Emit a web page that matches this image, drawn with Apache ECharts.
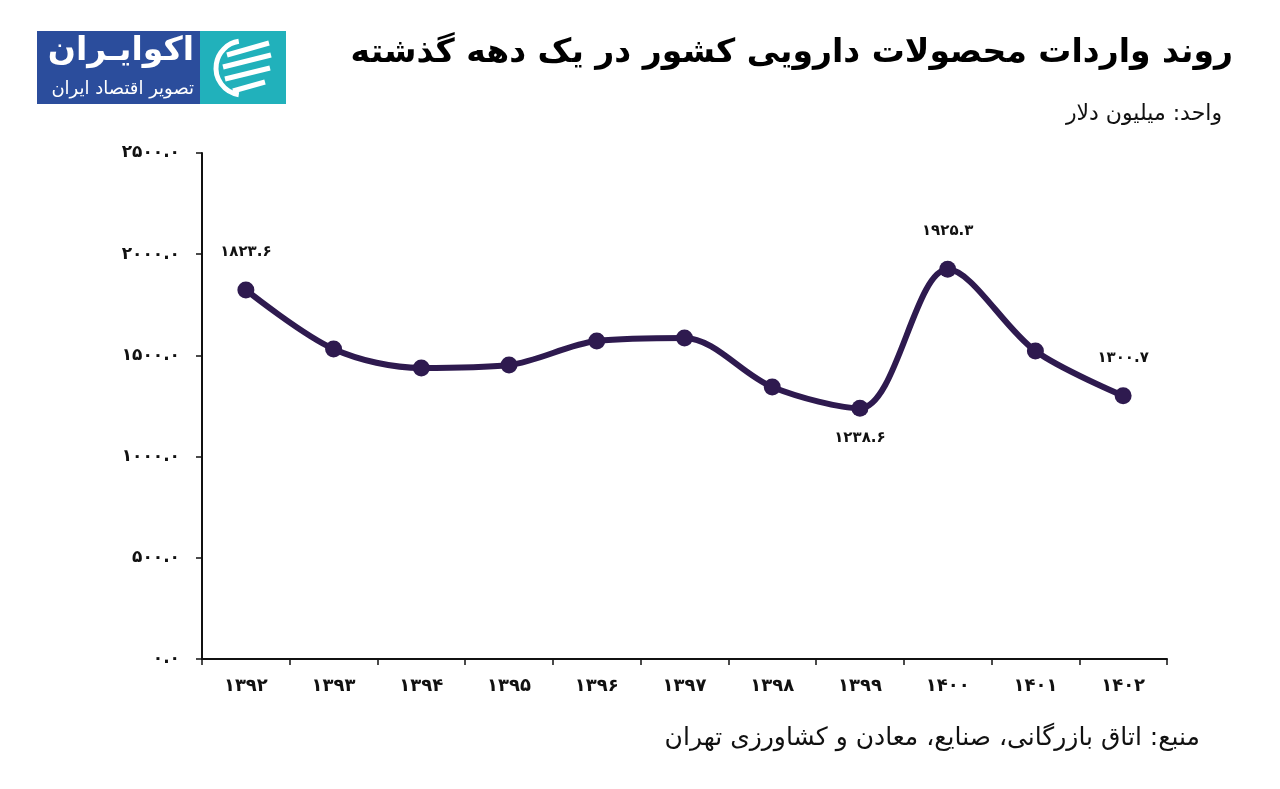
<!DOCTYPE html>
<html>
<head>
<meta charset="utf-8">
<script src="https://cdn.jsdelivr.net/npm/echarts@6/dist/echarts.min.js"></script>
<style>
html,body{margin:0;padding:0;background:#fff;}
#chart{width:1280px;height:789px;}
</style>
</head>
<body>
<div id="chart"></div>
<script>
const years = ['۱۳۹۲','۱۳۹۳','۱۳۹۴','۱۳۹۵','۱۳۹۶','۱۳۹۷','۱۳۹۸','۱۳۹۹','۱۴۰۰','۱۴۰۱','۱۴۰۲'];
const imports = [1823.6, 1532, 1438, 1453, 1571, 1586, 1344, 1238.6, 1925.3, 1522, 1300.7];
const labelledTop = [0, 8, 10];
const labelledBottom = [7];
const titleText = 'روند واردات محصولات دارویی کشور در یک دهه گذشته';
const unitText = 'واحد: میلیون دلار';
const sourceText = 'منبع: اتاق بازرگانی، صنایع، معادن و کشاورزی تهران';
const logoMain = 'اکوایـران';
const logoSub = 'تصویر اقتصاد ایران';

const FA = '۰۱۲۳۴۵۶۷۸۹';
const toFa = s => String(s).replace(/[0-9]/g, d => FA[d]);
const FONT = '"DejaVu Sans", "Noto Sans", sans-serif';
const LINE = '#2e1a4f';

const seriesData = imports.map((v, i) => {
  const o = { value: v };
  if (labelledTop.includes(i)) {
    o.label = { show: true, position: 'top', distance: 22 };
  } else if (labelledBottom.includes(i)) {
    o.label = { show: true, position: 'bottom', distance: 14 };
  }
  return o;
});

const chart = echarts.init(document.getElementById('chart'), null, { renderer: 'canvas' });
chart.setOption({
  backgroundColor: '#ffffff',
  animation: false,
  textStyle: { fontFamily: FONT },
  grid: { left: 202, right: 113, top: 153, bottom: 130 },
  xAxis: {
    type: 'category',
    data: years,
    boundaryGap: true,
    axisLine: { lineStyle: { color: '#111', width: 2 } },
    axisTick: { show: true, length: 6, lineStyle: { color: '#111', width: 1.5 } },
    axisLabel: { color: '#111', fontSize: 18, fontWeight: 'bold', margin: 18, fontFamily: FONT }
  },
  yAxis: {
    type: 'value',
    min: 0, max: 2500, interval: 500,
    splitLine: { show: false },
    axisLine: { show: true, lineStyle: { color: '#111', width: 2 } },
    axisTick: { show: true, length: 6, lineStyle: { color: '#111', width: 1.5 } },
    axisLabel: {
      color: '#111', fontSize: 17, fontWeight: 'bold', margin: 22, fontFamily: FONT,
      formatter: v => toFa(v.toFixed(1))
    }
  },
  series: [{
    type: 'line',
    data: seriesData,
    smooth: 0.32,
    symbol: 'circle',
    symbolSize: 17,
    lineStyle: { color: LINE, width: 6 },
    itemStyle: { color: LINE },
    label: {
      show: false,
      color: '#111', fontSize: 15, fontWeight: 'bold', fontFamily: FONT,
      formatter: p => toFa(p.value.toFixed(1))
    }
  }],
  graphic: [
    { type: 'text', right: 47, top: 37,
      style: { text: titleText, font: 'bold 33px ' + FONT, fill: '#000', textAlign: 'right' } },
    { type: 'text', right: 58, top: 103,
      style: { text: unitText, font: '22px ' + FONT, fill: '#111', textAlign: 'right' } },
    { type: 'text', right: 80, top: 726,
      style: { text: sourceText, font: '25px ' + FONT, fill: '#111', textAlign: 'right' } },
    { type: 'group', x: 37, y: 31, children: [
      { type: 'rect', shape: { x: 0, y: 0, width: 163, height: 73 }, style: { fill: '#2b4d9c' } },
      { type: 'rect', shape: { x: 163, y: 0, width: 86, height: 73 }, style: { fill: '#21b1bb' } },
      { type: 'text', x: 157, y: 4,
        style: { text: logoMain, font: 'bold 33px ' + FONT, fill: '#fff', textAlign: 'right' } },
      { type: 'text', x: 157, y: 49,
        style: { text: logoSub, font: '18px ' + FONT, fill: '#fff', textAlign: 'right' } },
      { type: 'arc', shape: { cx: 206, cy: 37, r: 27, startAngle: Math.PI * 0.55, endAngle: Math.PI * 1.45 },
        style: { stroke: '#fff', lineWidth: 5, fill: null } },
      { type: 'line', shape: { x1: 190, y1: 24, x2: 232, y2: 12 }, style: { stroke: '#fff', lineWidth: 5 } },
      { type: 'line', shape: { x1: 186, y1: 36, x2: 234, y2: 24 }, style: { stroke: '#fff', lineWidth: 5 } },
      { type: 'line', shape: { x1: 188, y1: 48, x2: 233, y2: 37 }, style: { stroke: '#fff', lineWidth: 5 } },
      { type: 'line', shape: { x1: 196, y1: 60, x2: 228, y2: 51 }, style: { stroke: '#fff', lineWidth: 5 } }
    ]}
  ]
});
</script>
</body>
</html>
